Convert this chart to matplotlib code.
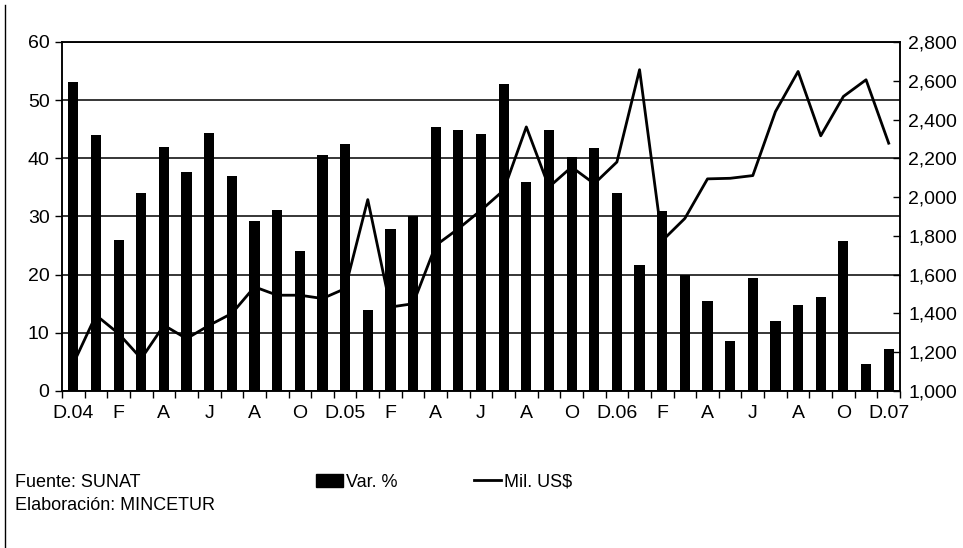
import matplotlib
matplotlib.use("Agg")
import matplotlib.pyplot as plt
from matplotlib.ticker import FuncFormatter
from matplotlib.patches import Patch
from matplotlib.lines import Line2D

plt.rcParams["font.family"] = ["Liberation Sans Narrow", "Liberation Sans", "DejaVu Sans"]

# data: monthly, Dec 2004 .. Dec 2007
var_pct = [53.1, 44.0, 25.9, 34.0, 41.9, 37.6, 44.3, 37.0, 29.3, 31.1, 24.1, 40.6,
           42.4, 13.9, 27.8, 30.0, 45.4, 44.9, 44.2, 52.8, 35.9, 44.9, 40.2, 41.8,
           34.1, 21.7, 31.0, 20.0, 15.5, 8.6, 19.5, 12.1, 14.7, 16.1, 25.8, 4.6, 7.3]
mil_usd = [1141, 1391, 1296, 1167, 1339, 1270, 1339, 1400, 1537, 1494, 1494, 1477,
           1528, 1987, 1433, 1450, 1751, 1837, 1932, 2035, 2362, 2052, 2155, 2069,
           2181, 2657, 1775, 1890, 2094, 2097, 2111, 2441, 2648, 2316, 2519, 2605, 2278]
tick_labels = ["D.04", "F", "A", "J", "A", "O", "D.05", "F", "A", "J", "A", "O",
               "D.06", "F", "A", "J", "A", "O", "D.07"]

x = list(range(len(var_pct)))

fig = plt.figure(figsize=(9.63, 5.48), dpi=100)
ax = fig.add_axes([0.0644, 0.2865, 0.8702, 0.6369])
ax2 = ax.twinx()

ax.bar(x, var_pct, width=0.45, color="black", zorder=3)
ax.set_ylim(0, 60)
ax.set_yticks(range(0, 61, 10))
ax.set_xlim(-0.5, len(x) - 0.5)
ax.grid(axis="y", color="black", linewidth=1.1, zorder=0)
ax.set_axisbelow(True)

ax.set_xticks(x[::2])
ax.set_xticklabels(tick_labels)
ax.set_xticks([i - 0.5 for i in range(len(x) + 1)], minor=True)
ax.tick_params(axis="x", which="major", length=0, pad=10, labelsize=14)
ax.tick_params(axis="x", which="minor", length=5, width=1, direction="out")
ax.tick_params(axis="y", length=5, width=1, labelsize=14, pad=4)

ax2.plot(x, mil_usd, color="black", linewidth=2, zorder=4)
ax2.set_ylim(1000, 2800)
ax2.set_yticks(range(1000, 2801, 200))
ax2.yaxis.set_major_formatter(FuncFormatter(lambda v, p: f"{int(v):,}"))
ax2.tick_params(axis="y", length=5, width=1, direction="in", labelsize=14, pad=6)

for a in (ax, ax2):
    for s in a.spines.values():
        s.set_color("black")
        s.set_linewidth(1.1)

# left page border
fig.add_artist(Line2D([0.005, 0.005], [0.0, 0.99], color="black", linewidth=1,
                      transform=fig.transFigure))

fig.text(0.016, 0.12, "Fuente: SUNAT", fontsize=13, va="center")
fig.text(0.016, 0.078, "Elaboración: MINCETUR", fontsize=13, va="center")

handles = [Patch(facecolor="black", edgecolor="black"),
           Line2D([0], [0], color="black", linewidth=2)]
fig.legend(handles, ["Var. %", "Mil. US$"], loc="center", ncol=2, frameon=False,
           bbox_to_anchor=(0.461, 0.12), fontsize=13, handlelength=1.5,
           handletextpad=0.2, columnspacing=4.2)

fig.savefig("out.png", dpi=100)
